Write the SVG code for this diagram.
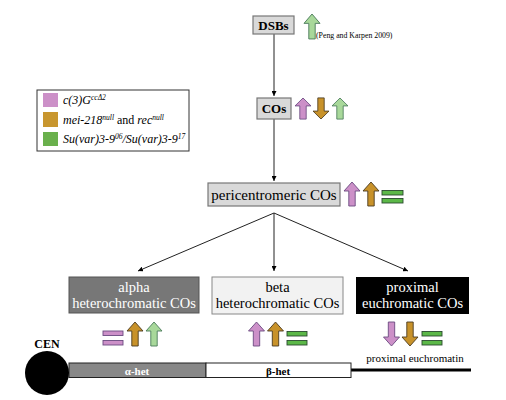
<svg xmlns="http://www.w3.org/2000/svg" width="506" height="400" viewBox="0 0 506 400">
<style>
.t{font-family:"Liberation Serif","DejaVu Serif",serif;}
.box{fill:#d9d9d9;stroke:#777;stroke-width:1.2;}
.lbl{font-size:14.5px;text-anchor:middle;fill:#000;}
.wl{font-size:14.5px;text-anchor:middle;fill:#fff;}
.leg{font-size:12px;font-style:italic;}
.pk{fill:#cc90c8;stroke:#6a4a80;stroke-width:0.9;}
.og{fill:#c8922a;stroke:#4a3a20;stroke-width:0.9;}
.gn{fill:#a8d89a;stroke:#4a7a5a;stroke-width:0.9;}
.eqg{fill:#5cb848;stroke:#2a4a30;stroke-width:0.9;}
.eqp{fill:#cc90c8;stroke:#6a4a80;stroke-width:0.9;}
.con{stroke:#222;stroke-width:1;fill:none;}
</style>
<defs>
<path id="up" d="M0,0 L8,9 L3.2,9 L3.2,24 L-3.2,24 L-3.2,9 L-8,9 Z"/>
<marker id="ah" viewBox="0 0 10 10" refX="10" refY="5" markerWidth="5" markerHeight="5" orient="auto-start-reverse">
<path d="M0,0 L10,5 L0,10 Z" fill="#000"/>
</marker>
</defs>
<rect width="506" height="400" fill="#fff"/>

<g id="connectors">
<line class="con" x1="274" y1="34" x2="274" y2="96" marker-end="url(#ah)"/>
<line class="con" x1="274" y1="119" x2="274" y2="181" marker-end="url(#ah)"/>
<line class="con" x1="274" y1="213" x2="138" y2="271" marker-end="url(#ah)"/>
<line class="con" x1="274" y1="213" x2="274" y2="271" marker-end="url(#ah)"/>
<line class="con" x1="274" y1="213" x2="408" y2="271" marker-end="url(#ah)"/>
</g>

<g id="dsbs">
<rect class="box" x="253" y="16" width="41" height="18"/>
<text class="t" x="273.5" y="30" text-anchor="middle" style="font-weight:bold;font-size:13px">DSBs</text>
<use href="#up" class="gn" transform="translate(312,14) scale(1,1.04)"/>
<text class="t" x="316" y="38" style="font-size:7.8px">(Peng and Karpen 2009)</text>
</g>

<g id="cos">
<rect class="box" x="257" y="98" width="34" height="21"/>
<text class="t" x="274" y="113" text-anchor="middle" style="font-weight:bold;font-size:13px">COs</text>
<use href="#up" class="pk" transform="translate(303,98) scale(1,0.88)"/>
<use href="#up" class="og" transform="translate(321,119) scale(1,-0.88)"/>
<use href="#up" class="gn" transform="translate(340,98) scale(1,0.88)"/>
</g>

<g id="legend">
<rect x="37" y="90" width="152" height="61" fill="#fff" stroke="#333" stroke-width="1"/>
<rect x="43" y="93" width="15" height="14" fill="#cc90c8"/>
<rect x="43" y="112" width="15" height="15" fill="#c8962e"/>
<rect x="43" y="132" width="15" height="14" fill="#6ab04c"/>
<text class="t leg" x="63" y="104">c(3)G<tspan style="font-size:7.5px" dy="-4">ccΔ2</tspan></text>
<text class="t leg" x="63" y="124">mei-218<tspan style="font-size:7.5px" dy="-4">null</tspan><tspan dy="4" style="font-style:normal"> and </tspan>rec<tspan style="font-size:7.5px" dy="-4">null</tspan></text>
<text class="t leg" x="63" y="143">Su(var)3-9<tspan style="font-size:7.5px" dy="-4">06</tspan><tspan dy="4">/Su(var)3-9</tspan><tspan style="font-size:7.5px" dy="-4">17</tspan></text>
</g>

<g id="peri">
<rect class="box" x="208" y="183" width="132" height="23"/>
<text class="t lbl" x="274" y="199.5" style="font-size:15px">pericentromeric COs</text>
<use href="#up" class="pk" transform="translate(352,182)"/>
<use href="#up" class="og" transform="translate(371,182)"/>
<rect class="eqg" x="382" y="190.5" width="21" height="4.5"/>
<rect class="eqg" x="382" y="198.5" width="21" height="4.5"/>
</g>

<g id="alpha">
<rect x="69" y="277" width="130" height="36" fill="#777" stroke="#555" stroke-width="1"/>
<text class="t wl" x="134" y="292">alpha</text>
<text class="t wl" x="134" y="307.5">heterochromatic COs</text>
<rect class="eqp" x="103" y="331" width="20" height="4.5"/>
<rect class="eqp" x="103" y="340.5" width="20" height="4.5"/>
<use href="#up" class="og" transform="translate(135,322)"/>
<use href="#up" class="gn" transform="translate(154,322)"/>
</g>

<g id="beta">
<rect x="212" y="277" width="131" height="37" fill="#f2f2f2" stroke="#888" stroke-width="1"/>
<text class="t lbl" x="277.5" y="292">beta</text>
<text class="t lbl" x="277.5" y="307.5">heterochromatic COs</text>
<use href="#up" class="pk" transform="translate(256.5,322)"/>
<use href="#up" class="og" transform="translate(275.5,322)"/>
<rect class="eqg" x="287" y="331.5" width="20" height="4.5"/>
<rect class="eqg" x="287" y="340.5" width="20" height="4.5"/>
</g>

<g id="proximal">
<rect x="356" y="277" width="113" height="37" fill="#000"/>
<text class="t wl" x="412.5" y="292">proximal</text>
<text class="t wl" x="412.5" y="307.5">euchromatic COs</text>
<use href="#up" class="pk" transform="translate(391.5,346) scale(1,-1)"/>
<use href="#up" class="og" transform="translate(410,346) scale(1,-1)"/>
<rect class="eqg" x="422" y="331.5" width="20" height="4.5"/>
<rect class="eqg" x="422" y="340.5" width="20" height="4.5"/>
</g>

<g id="chromosome">
<line x1="350" y1="370" x2="471" y2="370" stroke="#000" stroke-width="3"/>
<rect x="69" y="363" width="137" height="14.5" fill="#888" stroke="#222" stroke-width="1"/>
<rect x="206" y="363" width="145" height="14.5" fill="#fff" stroke="#222" stroke-width="1"/>
<circle cx="47" cy="373" r="22" fill="#000"/>
<text class="t" x="47" y="348" text-anchor="middle" style="font-weight:bold;font-size:12px">CEN</text>
<text class="t" x="137" y="374.5" text-anchor="middle" fill="#fff" style="font-weight:bold;font-size:11px">α-het</text>
<text class="t" x="278" y="374.5" text-anchor="middle" style="font-weight:bold;font-size:11px">β-het</text>
<text class="t" x="415" y="362" text-anchor="middle" style="font-size:11px">proximal euchromatin</text>
</g>
</svg>
